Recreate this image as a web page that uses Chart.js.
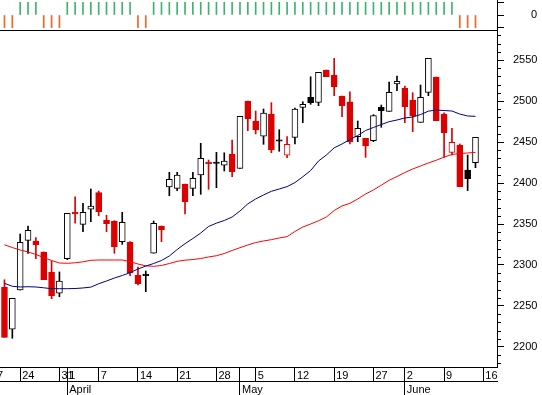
<!DOCTYPE html>
<html><head><meta charset="utf-8">
<script src="https://cdn.jsdelivr.net/npm/chart.js@4.4.1/dist/chart.umd.min.js"></script>
<style>
html,body{margin:0;padding:0;background:#fff;}
#wrap{position:relative;width:542px;height:395px;overflow:hidden;background:#fff;}
canvas{position:absolute;left:0;top:0;}
</style></head><body>
<div id="wrap"><canvas id="main" width="542" height="395"></canvas><canvas id="strip" width="542" height="31"></canvas></div>
<script>
// ---- data ----
const days = ['03-19','03-20','03-24','03-25','03-26','03-27','03-28','03-31',
 '04-01','04-02','04-03','04-04','04-07','04-08','04-09','04-10','04-11','04-14','04-15','04-16','04-17','04-18','04-21','04-22','04-23','04-24','04-25','04-28','04-29','04-30',
 '05-01','05-02','05-05','05-06','05-07','05-08','05-09','05-12','05-13','05-14','05-15','05-16','05-19','05-20','05-21','05-22','05-23','05-27','05-28','05-29','05-30',
 '06-02','06-03','06-04','06-05','06-06','06-09','06-10','06-11','06-12','06-13'];
const calendar = ['03-17','03-18'].concat(days, ['06-16','06-17']);

const open = [2272.8,2221.6,2269.5,2330,2329.3,2315.9,2291.5,2265.5,2307.7,2364.6,2349.6,2368,2388.2,2354.5,2353.7,2328.4,2328,2287.4,2289,2314.3,2347.6,2395.1,2393.5,2398.8,2393.5,2409.8,2425.2,2425.5,2421.6,2435.4,2417.9,2500,2475.6,2457,2484.1,2452.8,2433.8,2455.7,2492.3,2504.5,2498.4,2537.8,2531.7,2506.1,2499.1,2456.5,2454.5,2451.6,2492.3,2487.4,2520.7,2515.5,2501.2,2474,2510.6,2529.3,2484.1,2437.4,2446.3,2415.9,2424.8];
const high = [2282,2259.4,2337.8,2347.6,2333.3,2316,2304.9,2291.5,2363,2383,2375.2,2392.7,2390.2,2360.6,2354,2364.3,2328.5,2297.6,2292.7,2353.7,2347.6,2413,2413,2398.8,2413,2448.4,2428,2437.4,2436.9,2452.4,2481.3,2500,2487.8,2490.2,2498,2465,2456.5,2491.5,2499.1,2529.6,2535,2537.8,2552,2506.1,2511.3,2475.6,2454.5,2483.3,2495.1,2523.2,2530.5,2518.3,2510.1,2519.5,2552,2529.3,2485.7,2466.7,2447.6,2434.1,2455.7];
const low = [2211.8,2210.6,2269.5,2314,2307.7,2282.1,2258.9,2261.3,2306.5,2350.9,2340.6,2352.8,2360,2340.6,2314.3,2325.2,2287,2275.6,2267.4,2314.3,2328.4,2384.5,2390.6,2362.2,2384.5,2386.2,2392.3,2394.3,2414.6,2407.7,2417.9,2463.8,2459.8,2447.2,2437,2438.7,2430.9,2447.6,2473.5,2496,2494.3,2529.6,2506.5,2480.9,2447.6,2450.4,2431.3,2450.4,2467.9,2487.4,2512.6,2473.5,2462.6,2474,2506.5,2476,2431.3,2434.1,2395.5,2390.6,2418.7];
const close = [2211.8,2259.4,2327.7,2342.3,2324.8,2282.1,2262.6,2280.5,2363,2362.2,2364.3,2372,2365,2350.4,2322.3,2352.1,2290.6,2277.2,2287,2350.8,2343,2404.5,2409.8,2377.2,2405.7,2430.1,2423.5,2424,2426.8,2413.8,2481.3,2478.4,2464.6,2485.4,2440.6,2450.9,2447.2,2490.2,2496,2498,2535,2529.6,2517.4,2494.3,2450.4,2466.7,2445.1,2482.1,2488.2,2510.6,2524,2493,2481.7,2504.5,2552,2476,2461.3,2449.6,2395.5,2405.2,2455.7];
const ma20 = [2277.7,2274,2273.2,2273.5,2273.2,2272.2,2271.1,2271.1,2271.1,2271.3,2272,2273,2277.1,2280.5,2284.1,2287.2,2290.6,2295.1,2298.7,2301.8,2305.5,2311,2318.9,2326,2332.3,2339,2347,2351,2354.3,2358.5,2365.9,2374.6,2380.5,2385.4,2389.9,2392.7,2395.6,2400.5,2407.6,2415.2,2426.8,2434.1,2442.9,2447.6,2453,2457.9,2464,2467.7,2471.3,2474.8,2476.8,2479.3,2480.5,2483.5,2487.6,2489,2488.4,2487.8,2484.1,2481.7,2481.3];
const ma50 = [2324.6,2321.3,2318.3,2315.9,2312.8,2309.1,2305.5,2302.4,2302.1,2302.7,2303.9,2305.7,2306.1,2306.1,2306.1,2306.1,2304,2301.2,2299,2298.4,2299.4,2301.8,2304.5,2305.9,2306.7,2307.9,2309.8,2311.3,2314,2317.7,2321.1,2324.4,2327.4,2329.3,2330.9,2333,2334.6,2340.9,2346.3,2350,2353.9,2358.5,2366.5,2372,2375.2,2380.5,2386.6,2391.5,2397.3,2403.3,2407.9,2412.8,2417.1,2420.7,2424.4,2427.8,2431.5,2434.8,2436,2436.6,2437.4];
const signal = [-1,-1,1,1,1,-1,-1,-1,1,1,1,1,1,1,1,1,1,-1,-1,
 1,1,1,1,1,1,1,1,1,1,1,1,1,1,1,1,1,1,1,1,1,1,1,1,1,1,1,1,1,1,1,1,1,1,1,1,1,1,1,
 -1,-1,-1];

const weekTicks = ['03-17','03-24','03-31','04-01','04-07','04-14','04-21','04-28','05-01','05-05','05-12','05-19','05-27','06-02','06-09','06-16'];
const weekTickLabels = ['17','24','31','1','7','14','21','28','','5','12','19','27','2','9','16'];
const monthTicks = ['04-01','05-01','06-02'];
const monthTickLabels = ['April','May','June'];
const priceTicks = [2200,2250,2300,2350,2400,2450,2500,2550];
const stripTicks = [-1,0,1];
const stripTickLabels = ['','0',''];

// ---- styling / view ----
const RED = '#dd0000', BLACK = '#000000', GREEN = '#3cb371', ORANGE = '#f26522';
const X_MIN = 1.43, X_MAX = 64.74;
const Y_MIN = 2175.6, Y_MAX = 2586.6;
const FONT = {family: "'Liberation Sans', Arial, sans-serif", size: 11};
Chart.defaults.font.family = FONT.family;
Chart.defaults.font.size = FONT.size;
Chart.defaults.color = '#000';

const xs = days.map(d => calendar.indexOf(d));
const colors = close.map((c, i) => c < (i > 0 ? close[i-1] : open[i]) ? RED : BLACK);
const bodyFill = close.map((c, i) => c >= open[i] ? '#ffffff' : colors[i]);

const minorTicks = {
  id: 'minorTicks',
  afterDraw(chart) {
    const s = chart.scales.y, ctx = chart.ctx;
    ctx.save(); ctx.strokeStyle = '#000'; ctx.lineWidth = 1; ctx.beginPath();
    for (let v = Math.ceil(s.min / 10) * 10; v <= s.max; v += 10) {
      if (v % 50 === 0) continue;
      const y = Math.round(s.getPixelForValue(v)) + 0.5;
      ctx.moveTo(s.left, y); ctx.lineTo(s.left + 4, y);
    }
    ctx.stroke(); ctx.restore();
  }
};

const xAxisBase = (ticksDates, labels, weight) => ({
  type: 'linear', position: 'bottom', min: X_MIN, max: X_MAX, offset: false, weight,
  afterBuildTicks: s => { s.ticks = ticksDates.map(d => ({value: calendar.indexOf(d)})); },
  ticks: {autoSkip: false, maxRotation: 0, minRotation: 0, align: 'start', labelOffset: 2, padding: -12,
          color: '#000', font: FONT, callback: (v, i) => labels[i]},
  grid: {display: true, drawOnChartArea: false, drawTicks: true, tickLength: 14, color: '#000', offset: false},
  border: {display: true, color: '#000', width: 1},
  afterFit: s => { s.height = 14; s.paddingLeft = 0; s.paddingRight = 0; }
});

new Chart(document.getElementById('main'), {
  type: 'bar',
  data: {
    datasets: [
      {type: 'line', data: xs.map((x, i) => ({x, y: ma20[i]})), borderColor: '#000080', borderWidth: 1, pointRadius: 0, tension: 0, order: -2},
      {type: 'line', data: xs.map((x, i) => ({x, y: ma50[i]})), borderColor: '#ff0000', borderWidth: 1, pointRadius: 0, tension: 0, order: -1},
      {type: 'bar', data: xs.map((x, i) => ({x, y: [open[i], close[i]]})), backgroundColor: bodyFill, borderColor: colors,
       borderWidth: 1, borderSkipped: false, barThickness: 6, grouped: false, order: 0},
      {type: 'bar', data: xs.map((x, i) => ({x, y: [low[i], high[i]]})), backgroundColor: colors,
       borderWidth: 0, barThickness: 1, grouped: false, order: 1}
    ]
  },
  options: {
    responsive: false, animation: false, devicePixelRatio: 1,
    layout: {padding: {top: 30, left: 0, right: 0, bottom: 0}},
    plugins: {legend: {display: false}, tooltip: {enabled: false}},
    scales: {
      x: xAxisBase(weekTicks, weekTickLabels, 0),
      xm: xAxisBase(monthTicks, monthTickLabels, 1),
      y: {
        type: 'linear', position: 'right', min: Y_MIN, max: Y_MAX,
        afterBuildTicks: s => { s.ticks = priceTicks.map(v => ({value: v})); },
        ticks: {autoSkip: false, padding: 9, crossAlign: 'near', color: '#000', font: FONT, callback: v => String(v)},
        grid: {display: true, drawOnChartArea: false, drawTicks: true, tickLength: 7, color: '#000'},
        border: {display: true, color: '#000', width: 1},
        afterFit: s => { s.width = 45; s.paddingTop = 0; s.paddingBottom = 0; }
      }
    }
  },
  plugins: [minorTicks]
});

new Chart(document.getElementById('strip'), {
  type: 'bar',
  data: {datasets: [{data: xs.map((x, i) => ({x, y: signal[i]})), backgroundColor: signal.map(s => s > 0 ? GREEN : ORANGE),
                     borderWidth: 0, barThickness: 1, grouped: false}]},
  options: {
    responsive: false, animation: false, devicePixelRatio: 1,
    layout: {padding: {top: 0, left: 0, right: 0, bottom: 1}},
    plugins: {legend: {display: false}, tooltip: {enabled: false}},
    scales: {
      x: {type: 'linear', display: true, min: X_MIN, max: X_MAX, offset: false,
          ticks: {display: false}, grid: {display: true, drawOnChartArea: false, drawTicks: false},
          border: {display: true, color: '#000', width: 1},
          afterFit: s => { s.height = 0; s.paddingLeft = 0; s.paddingRight = 0; }},
      y: {type: 'linear', position: 'right', min: -1.18, max: 1.18,
          afterBuildTicks: s => { s.ticks = stripTicks.map(v => ({value: v})); },
          ticks: {autoSkip: false, padding: 27, crossAlign: 'near', color: '#000', font: FONT, callback: (v, i) => stripTickLabels[i]},
          grid: {display: true, drawOnChartArea: false, drawTicks: true, tickLength: 7, color: '#000'},
          border: {display: true, color: '#000', width: 1},
          afterFit: s => { s.width = 45; s.paddingTop = 0; s.paddingBottom = 0; }}
    }
  }
});
</script>
</body></html>
